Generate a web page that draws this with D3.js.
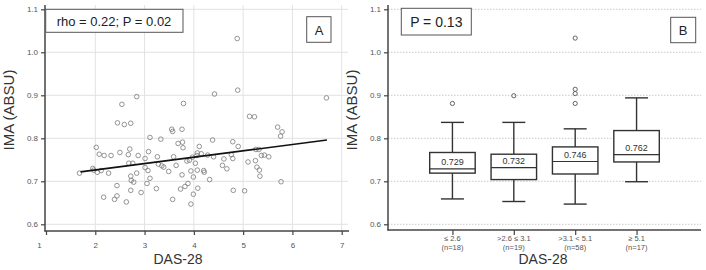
<!DOCTYPE html>
<html><head><meta charset="utf-8">
<script src="https://cdn.jsdelivr.net/npm/d3@7"></script>
<style>body{margin:0;background:#fff}svg{display:block}text{font-family:"Liberation Sans",Arial,sans-serif}</style>
</head><body>
<svg id="c" width="706" height="270"></svg>
<script>
// ---- Data ----
const scatterX = [1.68,1.95,1.97,2.02,2.04,2.08,2.12,2.17,2.18,2.27,2.32,2.39,2.44,2.44,2.45,2.50,2.54,2.59,2.63,2.67,2.68,2.70,2.72,2.72,2.72,2.73,2.76,2.78,2.84,2.84,2.87,2.93,3.01,3.01,3.05,3.07,3.08,3.11,3.11,3.24,3.26,3.28,3.33,3.35,3.39,3.49,3.55,3.57,3.57,3.59,3.64,3.68,3.73,3.76,3.76,3.77,3.78,3.79,3.82,3.86,3.88,3.91,3.94,3.94,3.97,3.99,3.99,4.03,4.06,4.07,4.07,4.08,4.11,4.15,4.20,4.21,4.28,4.32,4.38,4.40,4.42,4.58,4.61,4.67,4.76,4.79,4.79,4.80,4.88,4.89,4.90,5.03,5.10,5.13,5.23,5.25,5.26,5.28,5.32,5.33,5.34,5.37,5.43,5.52,5.70,5.76,5.77,5.79,6.69];
const scatterY = [0.719,0.730,0.726,0.779,0.721,0.763,0.725,0.663,0.760,0.719,0.760,0.658,0.666,0.690,0.836,0.767,0.879,0.832,0.652,0.762,0.742,0.775,0.835,0.712,0.679,0.702,0.742,0.698,0.897,0.719,0.760,0.674,0.753,0.732,0.695,0.725,0.769,0.707,0.802,0.683,0.757,0.740,0.798,0.736,0.733,0.723,0.821,0.816,0.658,0.757,0.737,0.788,0.682,0.715,0.821,0.791,0.778,0.881,0.688,0.747,0.695,0.749,0.724,0.647,0.756,0.710,0.670,0.742,0.760,0.726,0.766,0.684,0.781,0.764,0.725,0.721,0.761,0.704,0.796,0.757,0.903,0.737,0.752,0.729,0.762,0.792,0.753,0.679,1.032,0.912,0.781,0.678,0.745,0.851,0.850,0.748,0.774,0.733,0.774,0.726,0.712,0.760,0.761,0.757,0.826,0.805,0.699,0.815,0.894];
const fitX = [1.7, 6.7];
const fitY = [0.722, 0.796];
const xTicksA = [1,2,3,4,5,6,7];
const yTicks = [0.6,0.7,0.8,0.9,1.0,1.1];

const groups = ["≤ 2.6",">2.6 ≤ 3.1",">3.1 < 5.1","≥ 5.1"];
const groupN = ["(n=18)","(n=19)","(n=58)","(n=17)"];
const whiskLo = [0.659,0.653,0.647,0.699];
const q1 = [0.719,0.704,0.717,0.745];
const median = [0.729,0.732,0.746,0.762];
const q3 = [0.767,0.763,0.780,0.818];
const whiskHi = [0.837,0.837,0.822,0.894];
const outliers = [[0.881],[0.899],[1.033,0.914,0.904,0.881],[]];

const svg = d3.select("#c");
const axisCol = "#444", tickCol = "#555";

// ---- Panel A ----
const xA = d3.scaleLinear().domain([1,7]).range([46,341.7]);
const yS = d3.scaleLinear().domain([0.6,1.1]).range([224.3,9.3]);
const A = svg.append("g");
A.selectAll(".vg").data(xTicksA.slice(1)).join("line")
  .attr("x1",d=>xA(d)).attr("x2",d=>xA(d)).attr("y1",5).attr("y2",231)
  .attr("stroke","#e2e2e2").attr("stroke-width",1);
A.selectAll(".hg").data(yTicks).join("line")
  .attr("x1",45).attr("x2",348).attr("y1",d=>yS(d)).attr("y2",d=>yS(d))
  .attr("stroke","#e2e2e2").attr("stroke-width",1);
const yAxA = A.append("g").attr("transform","translate(45,0)")
  .call(d3.axisLeft(yS).tickValues(yTicks).tickFormat(d3.format(".1f")).tickSize(4).tickSizeOuter(0));
const xAxA = A.append("g").attr("transform","translate(0,231)")
  .call(d3.axisBottom(xA).tickValues(xTicksA).tickFormat(d3.format("d")).tickSize(4).tickSizeOuter(0));
[yAxA,xAxA].forEach(g=>{
  g.select(".domain").remove();
  g.selectAll(".tick line").attr("stroke",axisCol).attr("stroke-width",1.2);
  g.selectAll("text").attr("fill",tickCol).style("font-size","8px");
});
xAxA.selectAll(".tick text").attr("dy","1.3em");
xAxA.selectAll(".tick").filter(d=>d===1).select("text").attr("dx",-7);
A.append("line").attr("x1",45).attr("x2",45).attr("y1",5).attr("y2",231.5).attr("stroke",axisCol).attr("stroke-width",1.5);
A.append("line").attr("x1",44.5).attr("x2",349).attr("y1",231).attr("y2",231).attr("stroke",axisCol).attr("stroke-width",1.5);
A.selectAll("circle.pt").data(scatterX.map((x,i)=>[x,scatterY[i]])).join("circle")
  .attr("cx",d=>xA(d[0])).attr("cy",d=>yS(d[1])).attr("r",2.3)
  .attr("fill","none").attr("stroke","#7a7a7a").attr("stroke-width",0.8);
A.append("line").attr("x1",xA(fitX[0])).attr("y1",yS(fitY[0])).attr("x2",xA(fitX[1])).attr("y2",yS(fitY[1]))
  .attr("stroke","#111").attr("stroke-width",1.6);
A.append("rect").attr("x",45.7).attr("y",9.3).attr("width",137.3).attr("height",23).attr("fill","#fff").attr("stroke","#555").attr("stroke-width",1);
A.append("text").attr("x",114).attr("y",25.5).attr("text-anchor","middle").style("font-size","13px").attr("fill","#222").text("rho = 0.22; P = 0.02");
A.append("rect").attr("x",306.7).attr("y",16.7).attr("width",24.3).attr("height",25.6).attr("fill","#fff").attr("stroke","#555").attr("stroke-width",1);
A.append("text").attr("x",319).attr("y",34.5).attr("text-anchor","middle").style("font-size","13px").attr("fill","#222").text("A");
A.append("text").attr("transform","translate(14,110) rotate(-90)").attr("text-anchor","middle").style("font-size","15px").attr("fill","#333").text("IMA (ABSU)");
A.append("text").attr("x",178).attr("y",264).attr("text-anchor","middle").style("font-size","14px").attr("fill","#333").text("DAS-28");

// ---- Panel B ----
const xB = d3.scalePoint().domain(groups).range([388,701]).padding(1.05);
const B = svg.append("g");
B.selectAll(".hg").data(yTicks).join("line")
  .attr("x1",388).attr("x2",701).attr("y1",d=>yS(d)).attr("y2",d=>yS(d))
  .attr("stroke","#bbb").attr("stroke-width",0.8).attr("stroke-dasharray","1.5,1.5");
const yAxB = B.append("g").attr("transform","translate(388,0)")
  .call(d3.axisLeft(yS).tickValues(yTicks).tickFormat(d3.format(".1f")).tickSize(4).tickSizeOuter(0));
const xAxB = B.append("g").attr("transform","translate(0,230)")
  .call(d3.axisBottom(xB).tickSize(5).tickSizeOuter(0).tickFormat(""));
[yAxB,xAxB].forEach(g=>{
  g.select(".domain").remove();
  g.selectAll(".tick line").attr("stroke",axisCol).attr("stroke-width",1.2);
  g.selectAll("text").attr("fill",tickCol).style("font-size","8px");
});
B.append("line").attr("x1",388).attr("x2",388).attr("y1",5).attr("y2",230.5).attr("stroke",axisCol).attr("stroke-width",1.5);
B.append("line").attr("x1",387.5).attr("x2",701).attr("y1",230).attr("y2",230).attr("stroke",axisCol).attr("stroke-width",1.5);
groups.forEach((g,i)=>{
  B.append("text").attr("x",xB(g)).attr("y",241).attr("text-anchor","middle").style("font-size","7.5px").attr("fill",tickCol).text(g);
  B.append("text").attr("x",xB(g)).attr("y",250).attr("text-anchor","middle").style("font-size","7.5px").attr("fill",tickCol).text(groupN[i]);
});
const bw = 45.5, cw = 23;
groups.forEach((g,i)=>{
  const cx = xB(g);
  const bx = B.append("g").attr("stroke","#333").attr("fill","none");
  bx.append("line").attr("x1",cx).attr("x2",cx).attr("y1",yS(whiskHi[i])).attr("y2",yS(q3[i])).attr("stroke-width",1.4);
  bx.append("line").attr("x1",cx).attr("x2",cx).attr("y1",yS(q1[i])).attr("y2",yS(whiskLo[i])).attr("stroke-width",1.4);
  bx.append("line").attr("x1",cx-cw/2).attr("x2",cx+cw/2).attr("y1",yS(whiskHi[i])).attr("y2",yS(whiskHi[i])).attr("stroke-width",1.4);
  bx.append("line").attr("x1",cx-cw/2).attr("x2",cx+cw/2).attr("y1",yS(whiskLo[i])).attr("y2",yS(whiskLo[i])).attr("stroke-width",1.4);
  bx.append("rect").attr("x",cx-bw/2).attr("y",yS(q3[i])).attr("width",bw).attr("height",yS(q1[i])-yS(q3[i])).attr("fill","#fff").attr("stroke-width",1.4);
  bx.append("line").attr("x1",cx-bw/2).attr("x2",cx+bw/2).attr("y1",yS(median[i])).attr("y2",yS(median[i])).attr("stroke-width",1.2);
  B.append("text").attr("x",cx).attr("y",yS(median[i])-3.5).attr("text-anchor","middle").style("font-size","9px").attr("fill","#333").text(median[i].toFixed(3));
  outliers[i].forEach(o=>{
    B.append("circle").attr("cx",cx).attr("cy",yS(o)).attr("r",2.1).attr("fill","none").attr("stroke","#555").attr("stroke-width",0.9);
  });
});
B.append("rect").attr("x",401.3).attr("y",8.3).attr("width",70).attr("height",26.7).attr("fill","#fff").attr("stroke","#555").attr("stroke-width",1);
B.append("text").attr("x",436.3).attr("y",26.5).attr("text-anchor","middle").style("font-size","14px").attr("fill","#222").text("P = 0.13");
B.append("rect").attr("x",670.7).attr("y",17.3).attr("width",25).attr("height",25.4).attr("fill","#fff").attr("stroke","#555").attr("stroke-width",1);
B.append("text").attr("x",683.2).attr("y",34.8).attr("text-anchor","middle").style("font-size","13px").attr("fill","#222").text("B");
B.append("text").attr("transform","translate(357,110) rotate(-90)").attr("text-anchor","middle").style("font-size","15px").attr("fill","#333").text("IMA (ABSU)");
B.append("text").attr("x",543).attr("y",264).attr("text-anchor","middle").style("font-size","14px").attr("fill","#333").text("DAS-28");
</script>
</body></html>
